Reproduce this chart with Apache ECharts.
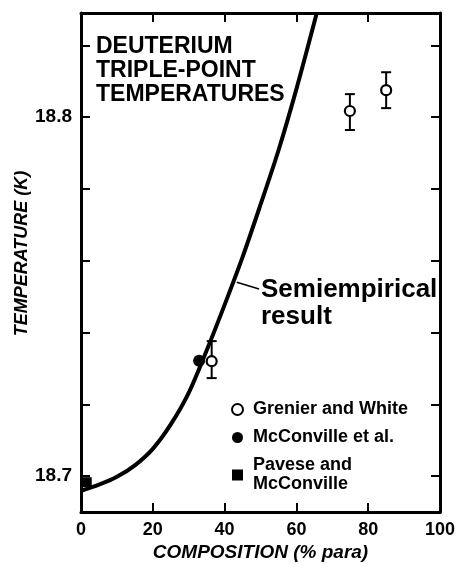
<!DOCTYPE html>
<html lang="en">
<head>
<meta charset="UTF-8">
<title>Deuterium triple-point temperatures</title>
<style>
  html, body { margin: 0; padding: 0; background: #fff; }
  #a { width: 456px; height: 564px; }
</style>
</head>
<body>
<div id="a"></div>
<script src="https://cdn.jsdelivr.net/npm/echarts@6/dist/echarts.min.js"></script>
<script>
// semiempirical curve
var curveX = [0, 5, 10, 15, 20, 25, 30, 35, 40, 45, 50, 55, 60, 65.6];
var curveT = [18.6959, 18.6976, 18.6998, 18.7030, 18.7076, 18.7144, 18.7232, 18.7350, 18.7477, 18.7610, 18.7756, 18.7907, 18.8078, 18.8287];

// Grenier and White (open circles with error bars)
var gwX = [36.4, 74.9, 85];
var gwT = [18.732, 18.8017, 18.8075];
var gwLo = [18.7273, 18.7964, 18.8025];
var gwHi = [18.7376, 18.8064, 18.8125];

// McConville et al.
var mcX = [32.9];
var mcT = [18.7321];

// Pavese and McConville
var pmX = [1.6];
var pmT = [18.6983];

var xTicks = [0, 20, 40, 60, 80, 100];
var yTicks = [18.70, 18.72, 18.74, 18.76, 18.78, 18.80, 18.82];
var yLabels = [18.7, 18.8];

var FONT = '"Liberation Sans", Arial, sans-serif';

function zip(a, b) {
    var out = [];
    for (var i = 0; i < a.length; i++) out.push([a[i], b[i]]);
    return out;
}
var bars = [];
for (var i = 0; i < gwX.length; i++) bars.push([gwX[i], gwLo[i], gwHi[i]]);

function ticks(vals) {
    return { show: true, inside: true, length: 9, customValues: vals, lineStyle: { color: '#000', width: 2 } };
}
function axisLine() {
    return { show: true, onZero: false, lineStyle: { color: '#000', width: 3 } };
}

var myChart = echarts.init(document.getElementById('a'));

var option = {
    backgroundColor: '#fff',
    animation: false,
    title: {
        text: 'DEUTERIUM\nTRIPLE-POINT\nTEMPERATURES',
        left: 96,
        top: 35,
        padding: 0,
        textStyle: { fontFamily: FONT, fontSize: 23, fontWeight: 'bold', color: '#000', lineHeight: 24 }
    },
    legend: {
        orient: 'vertical',
        left: 226,
        top: 395,
        itemWidth: 11,
        itemHeight: 11,
        itemGap: 9,
        data: ['Grenier and White', 'McConville et al.', 'Pavese and\nMcConville'],
        textStyle: { fontFamily: FONT, fontSize: 18, fontWeight: 'bold', color: '#000', lineHeight: 19, padding: [0, 0, 0, 5] }
    },
    grid: { left: 81, right: 16, top: 13, bottom: 52, outerBoundsMode: 'none' },
    xAxis: [{
        type: 'value', min: 0, max: 100, position: 'bottom',
        axisLine: axisLine(),
        axisTick: ticks(xTicks),
        splitLine: { show: false },
        axisLabel: { customValues: xTicks, margin: 9, fontFamily: FONT, fontSize: 18, fontWeight: 'bold', color: '#000' },
        name: 'COMPOSITION (% para)',
        nameLocation: 'middle',
        nameGap: 31,
        nameMoveOverlap: false,
        nameTextStyle: { fontFamily: FONT, fontSize: 19, fontWeight: 'bold', fontStyle: 'italic', color: '#000' }
    }, {
        type: 'value', min: 0, max: 100, position: 'top',
        axisLine: axisLine(),
        axisTick: ticks(xTicks),
        splitLine: { show: false },
        axisLabel: { show: false }
    }],
    yAxis: [{
        type: 'value', min: 18.69, max: 18.829, position: 'left',
        axisLine: axisLine(),
        axisTick: ticks(yTicks),
        splitLine: { show: false },
        axisLabel: {
            customValues: yLabels, margin: 9,
            formatter: function (v) { return v.toFixed(1); },
            fontFamily: FONT, fontSize: 19, fontWeight: 'bold', color: '#000'
        },
        name: 'TEMPERATURE (K)',
        nameLocation: 'middle',
        nameGap: 50,
        nameMoveOverlap: false,
        nameTextStyle: { fontFamily: FONT, fontSize: 18, fontWeight: 'bold', fontStyle: 'italic', color: '#000', padding: [0, 0, 0, 18] }
    }, {
        type: 'value', min: 18.69, max: 18.829, position: 'right',
        axisLine: axisLine(),
        axisTick: ticks(yTicks),
        splitLine: { show: false },
        axisLabel: { show: false }
    }],
    graphic: [{
        type: 'text',
        left: 261,
        top: 276,
        style: {
            text: 'Semiempirical\nresult',
            font: 'bold 26px ' + FONT,
            lineHeight: 27,
            fill: '#000'
        }
    }],
    series: [{
        name: 'Semiempirical result',
        type: 'line',
        data: zip(curveX, curveT),
        smooth: 0.3,
        showSymbol: false,
        clip: true,
        lineStyle: { color: '#000', width: 4 },
        markLine: {
            silent: true,
            symbol: 'none',
            label: { show: false },
            lineStyle: { color: '#000', width: 1.5, type: 'solid' },
            data: [[{ coord: [43.4, 18.754] }, { coord: [49.6, 18.7521] }]]
        },
        z: 2
    }, {
        name: 'error bars',
        type: 'custom',
        data: bars,
        renderItem: function (params, api) {
            var x = api.value(0);
            var lo = api.coord([x, api.value(1)]);
            var hi = api.coord([x, api.value(2)]);
            var w = 5;
            var s = { stroke: '#000', lineWidth: 2 };
            return {
                type: 'group',
                children: [
                    { type: 'line', shape: { x1: lo[0], y1: lo[1], x2: hi[0], y2: hi[1] }, style: s },
                    { type: 'line', shape: { x1: lo[0] - w, y1: lo[1], x2: lo[0] + w, y2: lo[1] }, style: s },
                    { type: 'line', shape: { x1: hi[0] - w, y1: hi[1], x2: hi[0] + w, y2: hi[1] }, style: s }
                ]
            };
        },
        z: 3
    }, {
        name: 'Grenier and White',
        type: 'scatter',
        data: zip(gwX, gwT),
        symbol: 'circle',
        symbolSize: 10,
        itemStyle: { color: '#fff', borderColor: '#000', borderWidth: 2.2, opacity: 1 },
        z: 5
    }, {
        name: 'McConville et al.',
        type: 'scatter',
        data: zip(mcX, mcT),
        symbol: 'circle',
        symbolSize: 12,
        itemStyle: { color: '#000', opacity: 1 },
        z: 4
    }, {
        name: 'Pavese and\nMcConville',
        type: 'scatter',
        data: zip(pmX, pmT),
        symbol: 'rect',
        symbolSize: 10,
        itemStyle: { color: '#000', opacity: 1 },
        z: 4
    }]
};

myChart.setOption(option);
</script>
</body>
</html>
